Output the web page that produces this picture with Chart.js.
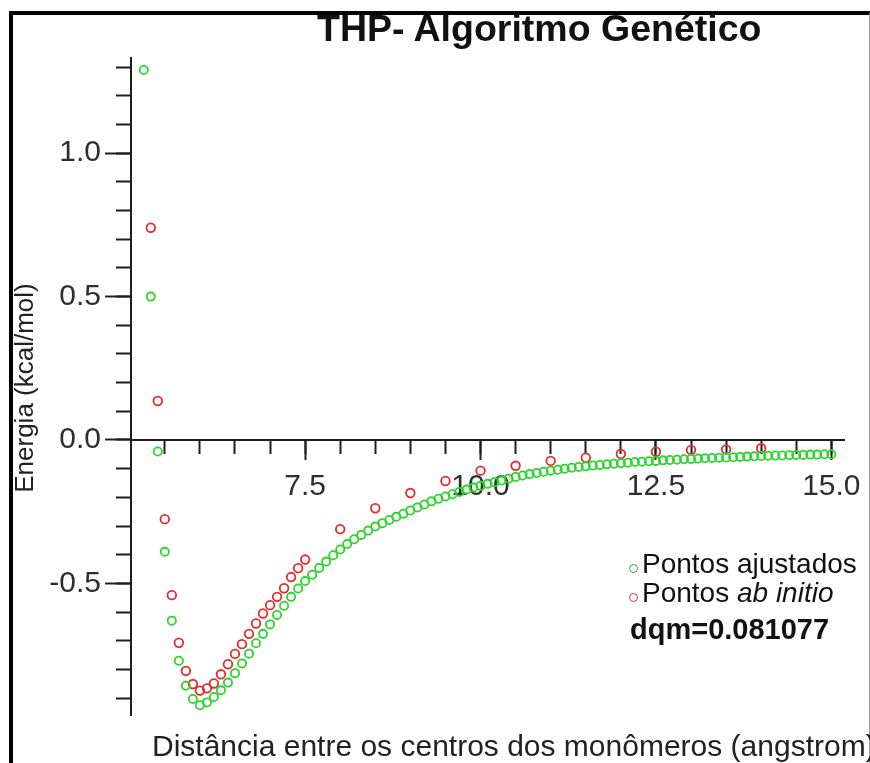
<!DOCTYPE html>
<html>
<head>
<meta charset="utf-8">
<script src="https://cdn.jsdelivr.net/npm/chart.js@4.4.1/dist/chart.umd.min.js"></script>
<style>
  body { margin: 0; background: #fff; }
  #wrap { position: relative; width: 870px; height: 763px; overflow: hidden; font-family: "Liberation Sans", Arial, sans-serif; background: #fff; }
  #c { position: absolute; left: 0; top: 0; }
  .frame { position: absolute; left: 9px; top: 11px; width: 856px; height: 760px; border-left: 4px solid #000; border-top: 4px solid #000; border-right: 1px solid #9a9a9a; pointer-events: none; }
  .txt { position: absolute; white-space: nowrap; line-height: 1; color: #1a1a1a; }
  #title { left: 317px; top: 10px; font-size: 37.5px; font-weight: bold; color: #111; }
  #ytitle { left: 24px; top: 388px; font-size: 26px; color: #222; transform: translate(-50%, -50%) rotate(-90deg); }
  #xtitle { left: 152px; top: 731px; font-size: 30px; color: #222; }
  .leg { font-size: 28px; left: 642px; color: #111; }
  .mark { position: absolute; width: 7px; height: 7px; border-radius: 50%; border: 1.6px solid; }
  #dqm { left: 630px; top: 615px; font-size: 29px; font-weight: bold; color: #111; }
</style>
</head>
<body>
<div id="wrap">
  <canvas id="c" width="870" height="763"></canvas>
  <div class="frame"></div>
  <div class="txt" id="title">THP- Algoritmo Genético</div>
  <div class="txt" id="ytitle">Energia (kcal/mol)</div>
  <div class="txt" id="xtitle">Distância entre os centros dos monômeros (angstrom)</div>
  <div class="mark" style="left:629px;top:564px;border-color:#2f9a52;"></div>
  <div class="txt leg" style="top:550px;">Pontos ajustados</div>
  <div class="mark" style="left:629px;top:593px;border-color:#d23a3a;"></div>
  <div class="txt leg" style="top:579px;">Pontos <i>ab initio</i></div>
  <div class="txt" id="dqm">dqm=0.081077</div>
</div>
<script>
// ---- data ----
const fitX = [5.2,5.3,5.4,5.5,5.6,5.7,5.8,5.9,6.0,6.1,
              6.2,6.3,6.4,6.5,6.6,6.7,6.8,6.9,7.0,7.1,
              7.2,7.3,7.4,7.5,7.6,7.7,7.8,7.9,8.0,8.1,
              8.2,8.3,8.4,8.5,8.6,8.7,8.8,8.9,9.0,9.1,
              9.2,9.3,9.4,9.5,9.6,9.7,9.8,9.9,10.0,10.1,
              10.2,10.3,10.4,10.5,10.6,10.7,10.8,10.9,11.0,11.1,
              11.2,11.3,11.4,11.5,11.6,11.7,11.8,11.9,12.0,12.1,
              12.2,12.3,12.4,12.5,12.6,12.7,12.8,12.9,13.0,13.1,
              13.2,13.3,13.4,13.5,13.6,13.7,13.8,13.9,14.0,14.1,
              14.2,14.3,14.4,14.5,14.6,14.7,14.8,14.9,15.0];
const fitE = [1.29,0.50,-0.04,-0.39,-0.63,-0.77,-0.857,-0.903,-0.925,-0.915,
              -0.896,-0.873,-0.846,-0.813,-0.779,-0.745,-0.709,-0.676,-0.643,-0.610,
              -0.578,-0.547,-0.518,-0.492,-0.470,-0.446,-0.424,-0.402,-0.382,-0.363,
              -0.346,-0.331,-0.316,-0.302,-0.290,-0.279,-0.268,-0.257,-0.246,-0.235,
              -0.225,-0.214,-0.205,-0.197,-0.189,-0.181,-0.173,-0.166,-0.160,-0.153,
              -0.147,-0.141,-0.135,-0.129,-0.124,-0.119,-0.115,-0.111,-0.107,-0.104,
              -0.100,-0.097,-0.094,-0.092,-0.089,-0.087,-0.085,-0.083,-0.081,-0.079,
              -0.077,-0.076,-0.074,-0.073,-0.071,-0.070,-0.069,-0.067,-0.066,-0.065,
              -0.064,-0.063,-0.062,-0.061,-0.060,-0.059,-0.058,-0.057,-0.056,-0.055,
              -0.054,-0.054,-0.053,-0.052,-0.052,-0.051,-0.051,-0.050,-0.050];
const abX = [5.3,5.4,5.5,5.6,5.7,5.8,5.9,6.0,6.1,6.2,6.3,6.4,6.5,6.6,6.7,6.8,6.9,7.0,7.1,7.2,7.3,7.4,7.5,
             8.0,8.5,9.0,9.5,10.0,10.5,11.0,11.5,12.0,12.5,13.0,13.5,14.0];
const abE = [0.74,0.136,-0.276,-0.541,-0.707,-0.805,-0.851,-0.874,-0.866,-0.849,-0.817,-0.782,-0.746,
             -0.712,-0.676,-0.640,-0.605,-0.576,-0.547,-0.517,-0.478,-0.447,-0.417,
             -0.311,-0.238,-0.185,-0.143,-0.107,-0.090,-0.073,-0.062,-0.049,-0.041,-0.035,-0.033,-0.029];
const xMajorTicks = [7.5, 10.0, 12.5, 15.0];
const yMajorTicks = [-0.5, 0.0, 0.5, 1.0];
const seriesNames = ['Pontos ajustados', 'Pontos ab initio'];

const X_MIN = 5.018, X_MAX = 15.187;
const Y_MIN = -0.959, Y_MAX = 1.332;
const AXIS = '#1e1e1e';
const LABEL = '#2e2e2e';
const FONT = '"Liberation Sans", Arial, sans-serif';

const toPts = (xs, ys) => xs.map((x, i) => ({ x: x, y: ys[i] }));

new Chart(document.getElementById('c'), {
  type: 'scatter',
  data: {
    datasets: [
      { label: seriesNames[1], data: toPts(abX, abE), showLine: false,
        pointStyle: 'circle', pointRadius: 4.3, borderWidth: 1.8,
        borderColor: '#e62a2a', backgroundColor: 'rgba(0,0,0,0)', clip: false, order: 2 },
      { label: seriesNames[0], data: toPts(fitX, fitE), showLine: false,
        pointStyle: 'circle', pointRadius: 4.1, borderWidth: 1.8,
        borderColor: '#2ad62a', backgroundColor: 'rgba(0,0,0,0)', clip: false, order: 1 }
    ]
  },
  options: {
    responsive: false, animation: false, devicePixelRatio: 1,
    layout: { padding: { left: 11, right: 15, top: 58, bottom: 48 } },
    plugins: { legend: { display: false }, title: { display: false }, tooltip: { enabled: false } },
    scales: {
      x: {
        type: 'linear', min: X_MIN, max: X_MAX, position: { y: 0 },
        border: { display: true, color: AXIS, width: 2 },
        grid: { display: true, drawOnChartArea: false, drawTicks: true, tickLength: 13, tickWidth: 2, tickColor: AXIS },
        ticks: { display: false, stepSize: 0.5, includeBounds: false, maxTicksLimit: 1000 }
      },
      x2: {
        type: 'linear', axis: 'x', min: X_MIN, max: X_MAX, position: { y: 0 },
        border: { display: false },
        grid: { display: true, drawOnChartArea: false, drawTicks: true, tickLength: 20, tickWidth: 2, tickColor: AXIS },
        afterBuildTicks: s => { s.ticks = xMajorTicks.map(v => ({ value: v })); },
        ticks: { autoSkip: false, maxRotation: 0, padding: 9, color: LABEL,
                 font: { family: FONT, size: 30 }, callback: v => Number(v).toFixed(1) }
      },
      y: {
        type: 'linear', min: Y_MIN, max: Y_MAX, position: 'left', weight: 0,
        afterFit: s => { s.width = 0; },
        border: { display: true, color: AXIS, width: 2 },
        grid: { display: true, drawOnChartArea: false, drawTicks: true, tickLength: 15, tickWidth: 2, tickColor: AXIS },
        ticks: { display: false, stepSize: 0.1, includeBounds: false, maxTicksLimit: 1000 }
      },
      y2: {
        type: 'linear', axis: 'y', min: Y_MIN, max: Y_MAX, position: 'left', weight: 1,
        afterFit: s => { s.width = 120; },
        border: { display: false },
        grid: { display: true, drawOnChartArea: false, drawTicks: true, tickLength: 26, tickWidth: 2, tickColor: AXIS },
        afterBuildTicks: s => { s.ticks = yMajorTicks.map(v => ({ value: v })); },
        ticks: { autoSkip: false, padding: 4, color: LABEL,
                 font: { family: FONT, size: 30 }, callback: v => Number(v).toFixed(1) }
      }
    }
  }
});
</script>
</body>
</html>
